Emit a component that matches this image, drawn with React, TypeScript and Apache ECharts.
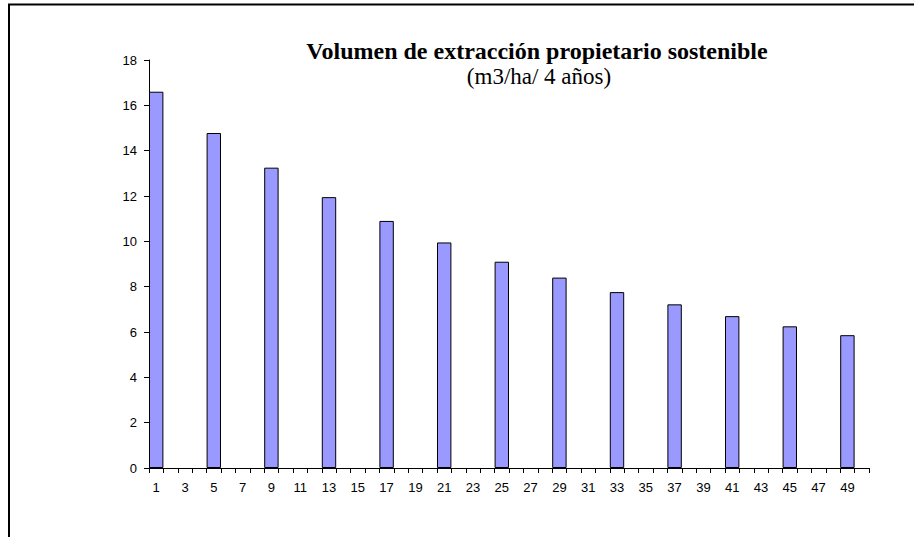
import React, { useEffect, useRef } from "react";
import * as echarts from "echarts";

const categories: string[] = Array.from({ length: 50 }, (_, i) => String(i + 1));
const barCategories: string[] = ["1", "5", "9", "13", "17", "21", "25", "29", "33", "37", "41", "45", "49"];
const barValues: number[] = [16.6, 14.78, 13.25, 11.95, 10.9, 9.95, 9.1, 8.4, 7.76, 7.22, 6.7, 6.25, 5.86];
const yTicks = { min: 0, max: 18, interval: 2 };
const titleText = "Volumen de extracción propietario sostenible";
const subtitleText = "(m3/ha/ 4 años)";

export default function App() {
  const ref = useRef<HTMLDivElement>(null);
  useEffect(() => {
    if (!ref.current) return;
    const chart = echarts.init(ref.current, undefined, { renderer: "svg" });
    const data = categories.map((c) => {
      const i = barCategories.indexOf(c);
      return i >= 0 ? barValues[i] : null;
    });
    chart.setOption({
      animation: false,
      backgroundColor: "#ffffff",
      grid: { left: 149, right: 45, top: 60, bottom: 69, containLabel: false },
      xAxis: {
        type: "category",
        data: categories,
        boundaryGap: true,
        axisLine: { lineStyle: { color: "#000", width: 1 } },
        axisTick: { show: true, interval: 0, length: 5, inside: false, lineStyle: { color: "#000" } },
        axisLabel: {
          interval: 1,
          color: "#000",
          fontFamily: "Liberation Sans, Arial, sans-serif",
          fontSize: 13,
          margin: 13,
        },
        splitLine: { show: false },
      },
      yAxis: {
        type: "value",
        min: yTicks.min,
        max: yTicks.max,
        interval: yTicks.interval,
        axisLine: { show: true, lineStyle: { color: "#000", width: 1 } },
        axisTick: { show: true, length: 5, lineStyle: { color: "#000" } },
        axisLabel: {
          color: "#000",
          fontFamily: "Liberation Sans, Arial, sans-serif",
          fontSize: 13,
          margin: 12,
        },
        splitLine: { show: false },
      },
      series: [
        {
          type: "bar",
          data,
          barCategoryGap: "0%",
          itemStyle: { color: "#9999FF", borderColor: "#000", borderWidth: 1 },
        },
      ],
      graphic: [
        {
          type: "line",
          shape: { x1: 8, y1: 4.5, x2: 914, y2: 4.5 },
          style: { stroke: "#000", lineWidth: 2 },
        },
        {
          type: "line",
          shape: { x1: 9, y1: 4, x2: 9, y2: 537 },
          style: { stroke: "#000", lineWidth: 2 },
        },
        {
          type: "text",
          x: 537,
          y: 51,
          style: {
            text: titleText,
            textAlign: "center",
            textVerticalAlign: "middle",
            fontFamily: "Liberation Serif, Times New Roman, serif",
            fontWeight: "bold",
            fontSize: 24,
            fill: "#000",
          },
        },
        {
          type: "text",
          x: 539,
          y: 76,
          style: {
            text: subtitleText,
            textAlign: "center",
            textVerticalAlign: "middle",
            fontFamily: "Liberation Serif, Times New Roman, serif",
            fontSize: 23,
            fill: "#000",
          },
        },
      ],
    });
    return () => chart.dispose();
  }, []);
  return (
    <div
      ref={ref}
      style={{ position: "fixed", left: 0, top: 0, width: 914, height: 537 }}
    />
  );
}
